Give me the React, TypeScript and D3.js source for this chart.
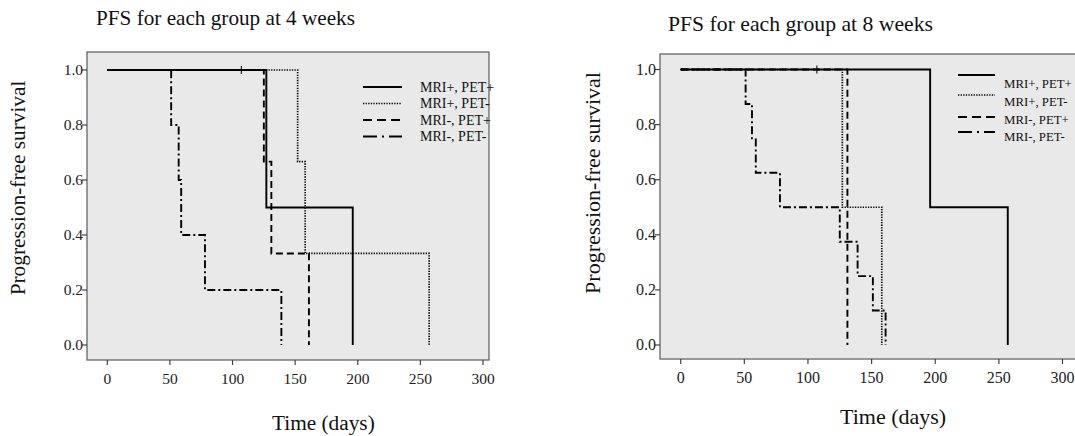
import React from "react";
import * as d3 from "d3";

const groups = ["MRI+, PET+", "MRI+, PET-", "MRI-, PET+", "MRI-, PET-"];
const xTicks = [0, 50, 100, 150, 200, 250, 300];
const yTicks = [0, 0.2, 0.4, 0.6, 0.8, 1.0];

// [days, survival] at each step -- 4 weeks
const w4PosPos = [[0, 1], [127, 0.5], [196, 0]];
const w4PosNeg = [[0, 1], [152, 0.667], [158, 0.333], [257, 0]];
const w4NegPos = [[0, 1], [125, 0.667], [131, 0.333], [161, 0]];
const w4NegNeg = [[0, 1], [51, 0.8], [57, 0.6], [59, 0.4], [78, 0.2], [139, 0]];
const w4Censored = [107];

// 8 weeks
const w8PosPos = [[0, 1], [196, 0.5], [257, 0]];
const w8PosNeg = [[0, 1], [127, 0.5], [158, 0]];
const w8NegPos = [[0, 1], [131, 0]];
const w8NegNeg = [
  [0, 1], [51, 0.875], [56, 0.75], [59, 0.625], [78, 0.5],
  [125, 0.375], [139, 0.25], [151, 0.125], [161, 0],
];
const w8Censored = [107];

const dashes = [null, "1.3,1.3", "7,4", "8,3,2,3"];
const legendDashes = [null, "1.3,1.3", "9,5", "14,5,2,5"];
const widths = [1.9, 1.7, 1.9, 1.9];
const FONT = "'Liberation Serif', 'Times New Roman', serif";

const Panel = ({ title, curves, censored, L }) => {
  const x = d3.scaleLinear().domain([0, 300]).range([L.x0, L.x300]);
  const y = d3.scaleLinear().domain([0, 1]).range([L.y0, L.y1]);
  const line = d3
    .line()
    .x((d) => x(d[0]))
    .y((d) => y(d[1]))
    .curve(d3.curveStepAfter);

  return (
    <g>
      <text x={L.titleX} y={L.titleY} fontSize={L.titleSize} fontFamily={FONT} fill="#111">
        {title}
      </text>
      <rect
        x={L.left}
        y={L.top}
        width={L.right - L.left}
        height={L.bottom - L.top}
        fill="#e9e9e9"
        stroke="#666"
        strokeWidth={1.3}
      />
      {yTicks.map((t) => (
        <g key={t}>
          <line x1={L.left - 5} x2={L.left} y1={y(t)} y2={y(t)} stroke="#444" strokeWidth={1.2} />
          <text
            x={L.left - 4}
            y={y(t) + 5}
            textAnchor="end"
            fontSize={L.tickSize}
            fontFamily={FONT}
            fill="#222"
          >
            {d3.format(".1f")(t)}
          </text>
        </g>
      ))}
      {xTicks.map((t) => (
        <g key={t}>
          <line x1={x(t)} x2={x(t)} y1={L.bottom} y2={L.bottom + 5} stroke="#444" strokeWidth={1.2} />
          <text
            x={x(t)}
            y={L.bottom + 24}
            textAnchor="middle"
            fontSize={L.tickSize}
            fontFamily={FONT}
            fill="#222"
          >
            {t}
          </text>
        </g>
      ))}
      <text
        transform={`translate(${L.yLabX},${L.yLabY}) rotate(-90)`}
        textAnchor="middle"
        fontSize={L.labSize}
        fontFamily={FONT}
        fill="#111"
      >
        Progression-free survival
      </text>
      <text x={L.xLabX} y={L.xLabY} fontSize={L.labSize} fontFamily={FONT} fill="#111">
        Time (days)
      </text>

      {[3, 2, 1, 0].map((i) => (
        <path
          key={i}
          d={line(curves[i])}
          fill="none"
          stroke="#000"
          strokeWidth={widths[i]}
          strokeDasharray={dashes[i] || undefined}
        />
      ))}
      {censored.map((c) => (
        <line key={c} x1={x(c)} x2={x(c)} y1={y(1) - 4} y2={y(1) + 4} stroke="#000" strokeWidth={1} />
      ))}

      {groups.map((g, i) => (
        <g key={g}>
          <line
            x1={L.legX}
            x2={L.legX + L.legLen}
            y1={L.legLineY[i]}
            y2={L.legLineY[i]}
            stroke="#000"
            strokeWidth={widths[i]}
            strokeDasharray={legendDashes[i] || undefined}
          />
          <text
            x={L.legTextX}
            y={L.legTextY[i] + 4.5}
            fontSize={L.legSize}
            fontFamily={FONT}
            fill="#111"
          >
            {g}
          </text>
        </g>
      ))}
    </g>
  );
};

const leftLayout = {
  left: 87, top: 52, right: 489, bottom: 360,
  x0: 107.3, x300: 483, y0: 345, y1: 70,
  titleX: 96, titleY: 25, titleSize: 21.2,
  yLabX: 25, yLabY: 188, xLabX: 272, xLabY: 430, labSize: 21.3,
  tickSize: 15.5,
  legX: 363, legLen: 39, legTextX: 420, legSize: 14,
  legLineY: [87, 103.5, 120, 136.5], legTextY: [87, 103.5, 120, 136.5],
};

const rightLayout = {
  left: 660, top: 54, right: 1090, bottom: 359,
  x0: 680.7, x300: 1062.5, y0: 345, y1: 69.5,
  titleX: 668, titleY: 31, titleSize: 21.7,
  yLabX: 600, yLabY: 183, xLabX: 840, xLabY: 424, labSize: 22,
  tickSize: 16,
  legX: 958, legLen: 37, legTextX: 1004, legSize: 12.8,
  legLineY: [75, 95, 117, 132], legTextY: [83, 101, 119, 136],
};

export default function App() {
  return (
    <svg
      width={1075}
      height={436}
      style={{ position: "absolute", left: 0, top: 0, background: "#fff" }}
    >
      <Panel
        title="PFS for each group at 4 weeks"
        curves={[w4PosPos, w4PosNeg, w4NegPos, w4NegNeg]}
        censored={w4Censored}
        L={leftLayout}
      />
      <Panel
        title="PFS for each group at 8 weeks"
        curves={[w8PosPos, w8PosNeg, w8NegPos, w8NegNeg]}
        censored={w8Censored}
        L={rightLayout}
      />
    </svg>
  );
}
